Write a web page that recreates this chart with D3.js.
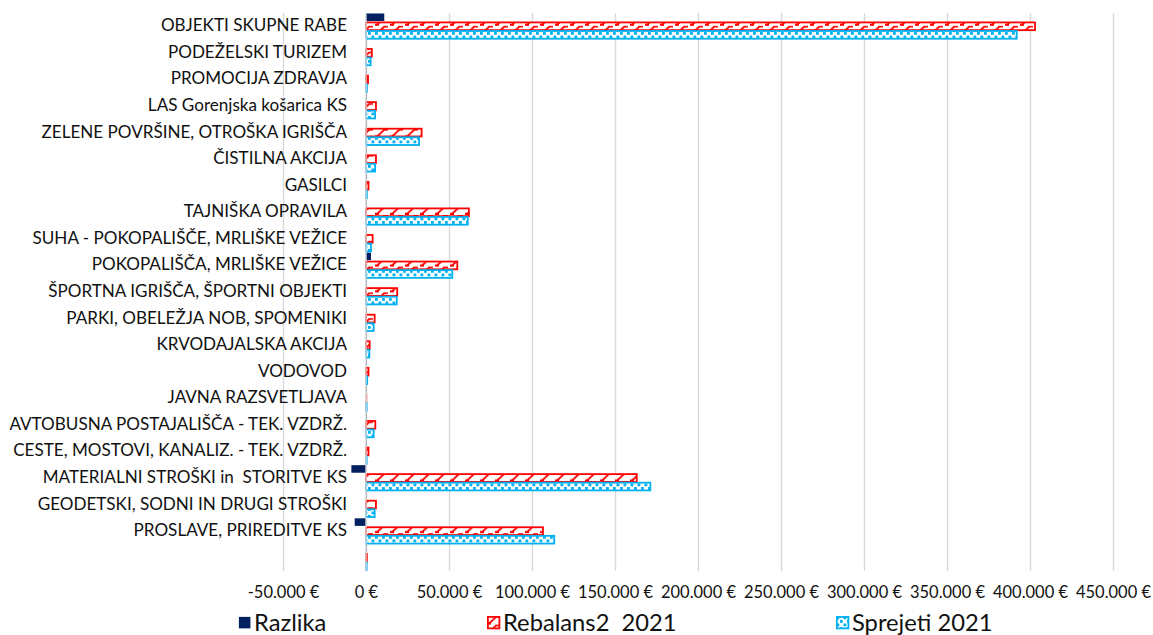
<!DOCTYPE html>
<html>
<head>
<meta charset="utf-8">
<script src="https://cdn.jsdelivr.net/npm/d3@7"></script>
<style>
  html, body { margin: 0; padding: 0; background: #fff; }
  svg { display: block; }
</style>
</head>
<body>
<svg id="chart" width="1153" height="635"></svg>
<script>
const categories = [
  "OBJEKTI SKUPNE RABE",
  "PODEŽELSKI TURIZEM",
  "PROMOCIJA ZDRAVJA",
  "LAS Gorenjska košarica KS",
  "ZELENE POVRŠINE, OTROŠKA IGRIŠČA",
  "ČISTILNA AKCIJA",
  "GASILCI",
  "TAJNIŠKA OPRAVILA",
  "SUHA - POKOPALIŠČE, MRLIŠKE VEŽICE",
  "POKOPALIŠČA, MRLIŠKE VEŽICE",
  "ŠPORTNA IGRIŠČA, ŠPORTNI OBJEKTI",
  "PARKI, OBELEŽJA NOB, SPOMENIKI",
  "KRVODAJALSKA AKCIJA",
  "VODOVOD",
  "JAVNA RAZSVETLJAVA",
  "AVTOBUSNA POSTAJALIŠČA - TEK. VZDRŽ.",
  "CESTE, MOSTOVI, KANALIZ. - TEK. VZDRŽ.",
  "MATERIALNI STROŠKI in  STORITVE KS",
  "GEODETSKI, SODNI IN DRUGI STROŠKI",
  "PROSLAVE, PRIREDITVE KS",
  ""
];
const razlika  = [11000, 0, 0, 0, 0, 0, 0, 0, 0, 3000, 0, 0, 0, 0, 0, 0, 0, -8800, 0, -6800, 0];
const rebalans = [403000, 3500, 1200, 6000, 33500, 6000, 1500, 62000, 4000, 55000, 18800, 5200, 2200, 1500, 0, 5600, 1500, 163100, 6000, 106600, 500];
const sprejeti = [392000, 2800, 500, 5500, 32000, 5500, 500, 61300, 3000, 52000, 18500, 4600, 2000, 700, 300, 4600, 300, 171300, 5200, 113400, 300];
const seriesNames = ["Razlika", "Rebalans2  2021", "Sprejeti 2021"];
const tickValues = [-50000, 0, 50000, 100000, 150000, 200000, 250000, 300000, 350000, 400000, 450000];

const svg = d3.select("#chart");
const FONT = "Lato, 'Open Sans', sans-serif";
const RED = "#FF0000", BLUE = "#00B0F0", NAVY = "#002060", GRID = "#D9D9D9";

function fitSize(text, target) {
  const t = svg.append("text").attr("font-family", FONT).attr("font-size", 100)
    .style("white-space", "pre").text(text);
  const w = t.node().getComputedTextLength();
  t.remove();
  return 100 * target / w;
}
const catSize = Math.min(
  (fitSize("OBJEKTI SKUPNE RABE", 178) + fitSize("ZELENE POVRŠINE, OTROŠKA IGRIŠČA", 337)) / 2,
  fitSize("AVTOBUSNA POSTAJALIŠČA - TEK. VZDRŽ.", 338));
const tickSize = fitSize("100.000 €", 75);
const legSize = (fitSize("Rebalans2  2021", 172) + fitSize("Sprejeti 2021", 142)) / 2;

// patterns
const defs = svg.append("defs");
const pr = defs.append("pattern").attr("id", "pRed").attr("patternUnits", "userSpaceOnUse")
  .attr("width", 15).attr("height", 8.6);
pr.append("rect").attr("width", 15).attr("height", 8.6).attr("fill", "#fff");
pr.append("path").attr("d", "M1,8.6 L10,0").attr("stroke", RED).attr("stroke-width", 1.8).attr("fill", "none");
pr.append("rect").attr("x", 0).attr("y", 6.4).attr("width", 4).attr("height", 2.2).attr("fill", RED);
pr.append("rect").attr("x", 9).attr("y", 0).attr("width", 4).attr("height", 1.6).attr("fill", RED);

const pb = defs.append("pattern").attr("id", "pBlue").attr("patternUnits", "userSpaceOnUse")
  .attr("width", 7).attr("height", 7);
pb.append("rect").attr("width", 7).attr("height", 7).attr("fill", "#fff");
pb.append("rect").attr("x", 0.5).attr("y", 0.5).attr("width", 2.8).attr("height", 2.8).attr("fill", BLUE);
pb.append("rect").attr("x", 4).attr("y", 4).attr("width", 2.8).attr("height", 2.8).attr("fill", BLUE);

const x = d3.scaleLinear().domain([-50000, 450000]).range([283, 1113]);
const y = d3.scaleBand().domain(d3.range(categories.length)).range([13, 571])
  .paddingInner(0.035).paddingOuter(0.0175);
const inner = d3.scaleBand().domain([0, 1, 2]).range([0, y.bandwidth()]);

const fmt = v => d3.format(",")(v).replace(/,/g, ".").replace("\u2212", "-") + " €";

// gridlines
const grid = svg.append("g").attr("transform", "translate(0,571)")
  .call(d3.axisBottom(x).tickValues(tickValues).tickSize(-(571 - 13)).tickFormat(""));
grid.select(".domain").remove();
grid.selectAll(".tick line").attr("stroke", GRID).attr("stroke-width", 1.4);

// bars
const series = [
  { name: seriesNames[0], values: razlika, fill: NAVY, stroke: "none" },
  { name: seriesNames[1], values: rebalans, fill: "url(#pRed)", stroke: RED },
  { name: seriesNames[2], values: sprejeti, fill: "url(#pBlue)", stroke: BLUE }
];
series.forEach((s, si) => {
  svg.append("g").selectAll("rect").data(s.values).join("rect")
    .attr("x", d => x(Math.min(0, d)))
    .attr("width", d => Math.max(Math.abs(x(d) - x(0)), 0.6))
    .attr("y", (d, i) => y(i) + inner(si) + (si === 0 ? 0 : 0.4))
    .attr("height", inner.bandwidth() - (si === 0 ? 1 : 0.8))
    .attr("fill", s.fill)
    .attr("stroke", s.stroke)
    .attr("stroke-width", si === 0 ? 0 : 1.8)
    .attr("opacity", d => (d === 0 && si > 0) ? 0.35 : 1);
});

// zero axis line
svg.append("line").attr("x1", x(0)).attr("x2", x(0)).attr("y1", 13).attr("y2", 571)
  .attr("stroke", GRID).attr("stroke-width", 1.4);

// category labels
svg.append("g").selectAll("text").data(categories).join("text")
  .attr("x", 347)
  .attr("y", (d, i) => y(i) + y.bandwidth() / 2 - 1)
  .attr("dy", "0.35em")
  .attr("text-anchor", "end")
  .attr("font-family", FONT)
  .attr("font-size", catSize)
  .attr("fill", "#111")
  .style("white-space", "pre")
  .text(d => d);

// tick labels
const ax = svg.append("g").attr("transform", "translate(0,592)")
  .call(d3.axisBottom(x).tickValues(tickValues).tickSize(0).tickPadding(0).tickFormat(fmt));
ax.select(".domain").remove();
ax.selectAll("text").attr("font-family", FONT).attr("font-size", tickSize)
  .attr("fill", "#111").attr("dy", "0.35em").attr("y", 0);

// legend
const legX = [238, 487, 836];
const leg = svg.append("g").selectAll("g").data(series).join("g")
  .attr("transform", (d, i) => `translate(${legX[i]},616)`);
leg.append("rect").attr("x", 0.9).attr("y", 0.9).attr("width", 11.5).attr("height", 11.5)
  .attr("fill", d => d.fill).attr("stroke", d => d.stroke).attr("stroke-width", (d, i) => i === 0 ? 0 : 1.8);
leg.append("text").attr("x", 16).attr("y", 6.5).attr("dy", "0.35em")
  .attr("font-family", FONT).attr("font-size", legSize).attr("fill", "#111")
  .style("white-space", "pre").text(d => d.name);
</script>
</body>
</html>
